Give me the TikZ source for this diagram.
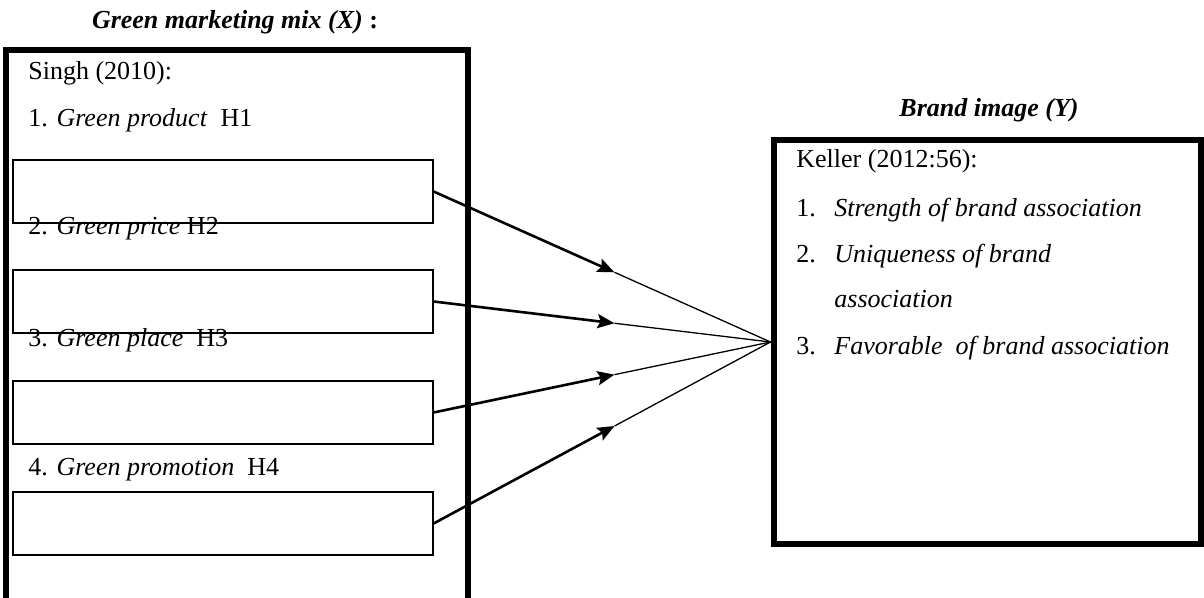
\documentclass[tikz,border=0pt]{standalone}
\usepackage{fontspec}
\setmainfont{Liberation Serif}
\usetikzlibrary{arrows.meta}
\tikzstyle{arrow} = [line width=1.3pt,-{Stealth[length=8.5pt,width=7pt,inset=1.5pt]}]

\begin{document}
\begin{tikzpicture}
        [
            x=0.5pt,y=-0.5pt,
            frame/.style={draw=black,line width=3pt},
            box/.style={rectangle,draw=black,line width=0.6pt,minimum width=210pt,minimum height=31.5pt,inner sep=0pt},
            txt/.style={anchor=base west,inner sep=0pt,font=\fontsize{13}{15}\selectfont},
            head/.style={anchor=base,inner sep=0pt,font=\fontsize{13}{15}\selectfont\bfseries\itshape},
        ]
    \useasboundingbox (0,0) rectangle (1204,598);

    % left block
    \draw[frame] (5.5,50) rectangle (468,610);
    \node[head] (xhead) at (235,29) {Green marketing mix (X) \upshape:};
    \node[txt] (singh) at (28,80) {Singh (2010):};
    \node[txt] (x1) at (28,127) {1. \textit{Green product}\ \ H1};
    \node[txt] (x2) at (28,235) {2. \textit{Green price} H2};
    \node[txt] (x3) at (28,347) {3. \textit{Green place}\ \ H3};
    \node[txt] (x4) at (28,475) {4. \textit{Green promotion}\ \ H4};
    \foreach \i/\y in {1/191.5,2/301.5,3/412.5,4/523.5}
        \node[box] (p\i) at (223,\y) {};

    % right block
    \node[head] (yhead) at (989,117) {Brand image (Y)};
    \node[frame,minimum width=213.75pt,minimum height=201.9pt] (brand) at (987.25,342) {};
    \node[txt] (keller) at (796,168) {Keller (2012:56):};
    \node[txt] (n1) at (796,217) {1.};
    \node[txt] (y1) at (834,217) {\textit{Strength of brand association}};
    \node[txt] (n2) at (796,263) {2.};
    \node[txt] (y2) at (834,263) {\textit{Uniqueness of brand}};
    \node[txt] (y2b) at (834,308) {\textit{association}};
    \node[txt] (n3) at (796,355) {3.};
    \node[txt] (y3) at (834,355) {\textit{Favorable\ \ of brand association}};

    % arrows
    \foreach \i in {1,2,3,4}{
        \path (p\i.east) -- (brand.west) coordinate[pos=0.537] (m\i);
        \draw[arrow] (p\i.east) -- (m\i);
        \draw[line width=0.65pt] (m\i) -- (brand.west);
    }
    \end{tikzpicture}
\end{document}
